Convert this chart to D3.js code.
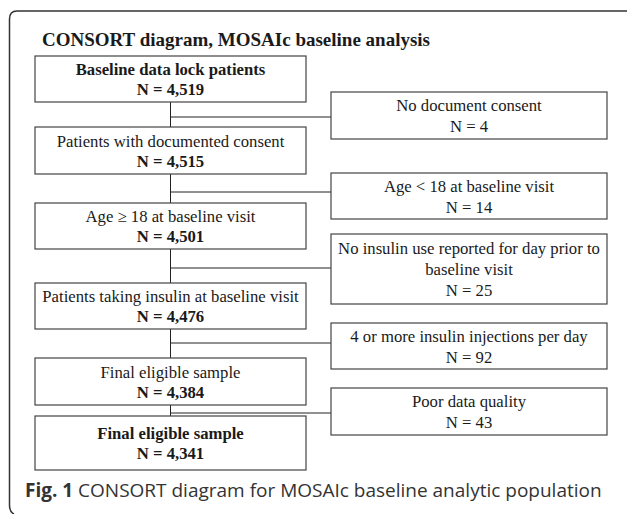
<html>
  <head>
    <script src="https://cdnjs.cloudflare.com/ajax/libs/d3/7.8.5/d3.min.js"></script>
    <style>
      body { margin: 0; background: #fff; }
    </style>
  </head>
  <body>
    <svg id="chart" width="627" height="514"></svg>
    <script>
      // main flow boxes
      let mainLabels = ["Baseline data lock patients", "Patients with documented consent",
        "Age \u2265 18 at baseline visit", "Patients taking insulin at baseline visit",
        "Final eligible sample", "Final eligible sample"];
      let mainCounts = [4519, 4515, 4501, 4476, 4384, 4341];
      let mainBoldLabel = [true, false, false, false, false, true];

      // exclusion boxes
      let exclLabels = [["No document consent"], ["Age < 18 at baseline visit"],
        ["No insulin use reported for day prior to", "baseline visit"],
        ["4 or more insulin injections per day"], ["Poor data quality"]];
      let exclCounts = [4, 14, 25, 92, 43];

      let title = "CONSORT diagram, MOSAIc baseline analysis";
      let caption = "CONSORT diagram for MOSAIc baseline analytic population";

      var svg = d3.select("#chart");
      var fmt = d3.format(",");
      var serif = "'Liberation Serif', 'Times New Roman', serif";
      var fs = "16.7px";

      // layout
      var mainTop = [56, 127, 203, 283, 358, 416];
      var mainH = [46, 47, 46, 46, 47, 54];
      var exclTop = [92, 173, 234, 323, 388];
      var exclH = [47, 46, 70, 46, 47];
      var branchY = [117, 192, 268, 343, 413];
      var leftX = 35, leftW = 271, rightX = 331, rightW = 276;
      var midX = 170.5;

      // outer frame
      svg.append("path")
        .attr("d", "M 640 11 L 17 11 Q 9.5 11 9.5 19 L 9.5 505 Q 9.5 512 14 514")
        .attr("fill", "none").attr("stroke", "#333").attr("stroke-width", 1.5);

      svg.append("text")
        .attr("x", 42).attr("y", 46)
        .style("font-family", serif).style("font-weight", "bold").style("font-size", "19px")
        .style("fill", "#1a1a1a")
        .text(title);

      // connectors
      svg.append("g").selectAll("line.v")
        .data(d3.range(mainCounts.length - 1))
        .enter().append("line")
        .attr("x1", midX).attr("x2", midX)
        .attr("y1", i => mainTop[i] + mainH[i])
        .attr("y2", i => mainTop[i + 1])
        .attr("stroke", "#222").attr("stroke-width", 1);

      svg.append("g").selectAll("line.h")
        .data(branchY)
        .enter().append("line")
        .attr("x1", midX).attr("x2", rightX)
        .attr("y1", d => d).attr("y2", d => d)
        .attr("stroke", "#222").attr("stroke-width", 1);

      // main boxes
      var mg = svg.append("g").selectAll("g")
        .data(mainLabels)
        .enter().append("g");

      mg.append("rect")
        .attr("x", leftX).attr("y", (d, i) => mainTop[i])
        .attr("width", leftW).attr("height", (d, i) => mainH[i])
        .attr("fill", "#fff").attr("stroke", "#444").attr("stroke-width", 1.2);

      mg.append("text")
        .attr("x", midX)
        .attr("y", (d, i) => mainTop[i] + mainH[i] / 2 - 4)
        .attr("text-anchor", "middle")
        .style("font-family", serif).style("font-size", fs)
        .style("font-weight", (d, i) => mainBoldLabel[i] ? "bold" : "normal")
        .style("fill", "#1a1a1a")
        .text(d => d);

      mg.append("text")
        .attr("x", midX)
        .attr("y", (d, i) => mainTop[i] + mainH[i] / 2 + 16)
        .attr("text-anchor", "middle")
        .style("font-family", serif).style("font-size", fs).style("font-weight", "bold")
        .style("fill", "#1a1a1a")
        .text((d, i) => "N = " + fmt(mainCounts[i]));

      // exclusion boxes
      var eg = svg.append("g").selectAll("g")
        .data(exclLabels)
        .enter().append("g");

      eg.append("rect")
        .attr("x", rightX).attr("y", (d, i) => exclTop[i])
        .attr("width", rightW).attr("height", (d, i) => exclH[i])
        .attr("fill", "#fff").attr("stroke", "#444").attr("stroke-width", 1.2);

      eg.each(function(lines, i) {
        var g = d3.select(this);
        var all = lines.concat(["N = " + fmt(exclCounts[i])]);
        var y0 = exclTop[i] + exclH[i] / 2 - (all.length - 1) * 10.5 + 6;
        g.selectAll("text")
          .data(all)
          .enter().append("text")
          .attr("x", rightX + rightW / 2)
          .attr("y", (t, j) => y0 + j * 21)
          .attr("text-anchor", "middle")
          .style("font-family", serif).style("font-size", fs)
          .style("fill", "#1a1a1a")
          .text(t => t);
      });

      // figure caption
      var cap = svg.append("text")
        .attr("x", 25).attr("y", 497)
        .style("font-family", "'Open Sans', 'Noto Sans', sans-serif").style("font-size", "19px")
        .style("fill", "#333");
      cap.append("tspan").style("font-weight", "bold").text("Fig. 1");
      cap.append("tspan").text(" " + caption);
    </script>
  </body>
</html>
